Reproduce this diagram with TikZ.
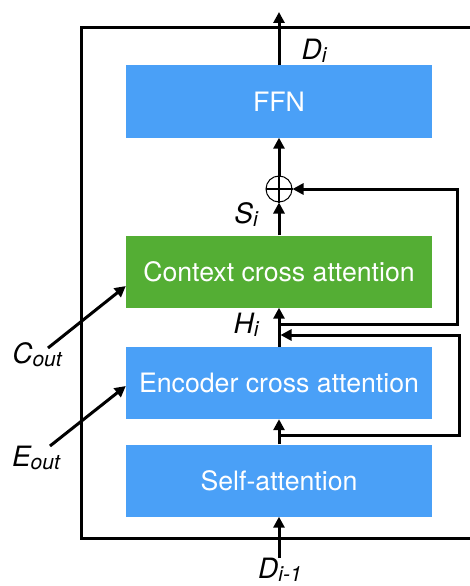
\documentclass[tikz,border=0pt]{standalone}
\usepackage{fontspec}
\setmainfont{TeX Gyre Heros}
\usetikzlibrary{arrows.meta}
\definecolor{blockblue}{RGB}{74,160,247}
\definecolor{blockgreen}{RGB}{84,174,52}
\newcommand{\lsub}[1]{{\fontsize{21}{21}\selectfont\raisebox{-3pt}{#1}}}
\begin{document}
\begin{tikzpicture}[
      x=1pt, y=-1pt,
      block/.style={fill=blockblue, text=white, minimum width=306pt, minimum height=72pt,
        inner sep=0pt, font=\fontsize{26.7}{30}\selectfont},
      ctxblock/.style={block, fill=blockgreen},
      lbl/.style={font=\fontsize{28}{30}\selectfont\itshape, inner sep=0pt},
      wire/.style={line width=3pt},
      flow/.style={wire, -{Triangle[width=11pt,length=11pt]}}]
    \useasboundingbox (0,0) rectangle (470,586);
    % outer frame
    \draw[wire] (475,28) -| (81,538) -- (475,538);
    % blocks
    \node[block] (ffn) at (279,101.5) {FFN};
    \node[ctxblock] (ctx) at (279,271.5) {Context cross attention};
    \node[block] (enc) at (279,383) {Encoder cross attention};
    \node[block] (self) at (279,480.5) {Self-attention};
    \node[circle, draw, line width=1pt, minimum size=26pt, inner sep=0pt] (plus) at (279,189) {};
    \draw[line width=2pt] (plus.west) -- (plus.east) (plus.south) -- (plus.north);
    % labels
    \node[lbl] (di) at (314,51) {D\lsub{i}};
    \node[lbl] (si) at (246,215) {S\lsub{i}};
    \node[lbl] (hi) at (246,325) {H\lsub{i}};
    \node[lbl] (cout) at (37,355) {C\lsub{out}};
    \node[lbl] (eout) at (36,458) {E\lsub{out}};
    \node[lbl] (dprev) at (280,570) {D\lsub{i-1}};
    \coordinate (top) at (279,12);
    \coordinate (in) at (279,558);
    \coordinate (res1) at (279,324);
    \coordinate (res2) at (279,435);
    \coordinate (cstart) at (48,348);
    \coordinate (estart) at (50,446);
    % main path
    \draw[flow] (in) -- (self.south);
    \draw[flow] (self.north) -- (enc.south);
    \draw[flow] (enc.north) -- (ctx.south);
    \draw[flow] (ctx.north) -- (plus.south);
    \draw[flow] (plus.north) -- (ffn.south);
    \draw[flow] (ffn.north) -- (top);
    % residuals
    \draw[flow] (res1) -| (457,189) -- (plus.east);
    \draw[flow] (res2) -| (459,335) -- ([xshift=1.5pt]res2 |- 0,335);
    % memory inputs
    \draw[flow] (cstart) -- (ctx.west |- 0,286);
    \draw[flow] (estart) -- (enc.west |- 0,386);
\end{tikzpicture}
\end{document}
